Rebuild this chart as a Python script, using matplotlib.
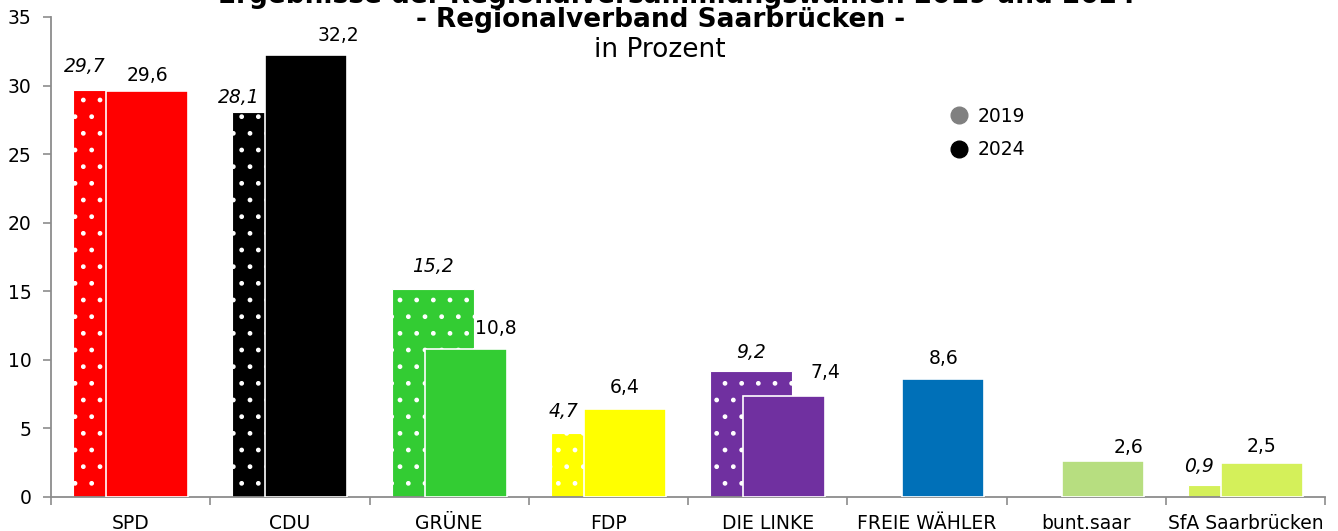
import numpy as np
import matplotlib
matplotlib.use("Agg")
import matplotlib.pyplot as plt
from matplotlib.lines import Line2D

# ---- data ----
parties = ["SPD", "CDU", "GRÜNE", "FDP", "DIE LINKE", "FREIE WÄHLER", "bunt.saar", "SfA Saarbrücken"]
votes_2019 = [29.7, 28.1, 15.2, 4.7, 9.2, np.nan, np.nan, 0.9]
votes_2024 = [29.6, 32.2, 10.8, 6.4, 7.4, 8.6, 2.6, 2.5]
party_colors = ["#FF0000", "#000000", "#33CC33", "#FFFF00", "#7030A0", "#0070B8", "#B7DE80", "#D4F05A"]
series_labels = ["2019", "2024"]
yticks = [0, 5, 10, 15, 20, 25, 30, 35]

# label nudges (pixels) relative to bar centre / bar top
lab19_dx = [-29, -35, 0, -28, 0, 0, 0, -30]
lab19_dy = [23, 14, 22, 21, 18, 0, 0, 18]
lab24_dx = [0, 32, 30, 0, 41, 0, 26, 0]
lab24_dy = [16, 20, 20, 22, 23, 21, 14, 16]

plt.rcParams["font.family"] = ["DejaVu Sans"]
plt.rcParams["hatch.linewidth"] = 1.0

W, H = 1338, 531
fig = plt.figure(figsize=(W / 100, H / 100), dpi=100)
ax = fig.add_axes([51 / W, 1 - 497 / H, (1325 - 51) / W, (497 - 17) / H])

x = np.arange(len(parties))
bw = 0.515
off = 0.103
ax.bar(x - off, votes_2019, width=bw, color=party_colors, edgecolor="white",
       linewidth=0.8, hatch=".", zorder=2)
ax.bar(x + off, votes_2024, width=bw, color=party_colors, edgecolor="white",
       linewidth=1.2, zorder=3)

def fmt(v):
    return f"{v:.1f}".replace(".", ",")

FS = 13.5
for i in range(len(parties)):
    v = votes_2019[i]
    if not np.isnan(v):
        ax.annotate(fmt(v), (x[i] - off, v), xytext=(lab19_dx[i], lab19_dy[i]),
                    textcoords="offset pixels", ha="center", va="center",
                    fontsize=FS, fontstyle="italic", color="black", zorder=5)
    v = votes_2024[i]
    ax.annotate(fmt(v), (x[i] + off, v), xytext=(lab24_dx[i], lab24_dy[i]),
                textcoords="offset pixels", ha="center", va="center",
                fontsize=FS, color="black", zorder=5)

ax.set_xlim(-0.5, len(parties) - 0.5)
ax.set_ylim(0, 35)
ax.set_yticks(yticks)
ax.set_xticks(x)
ax.set_xticklabels(parties, fontsize=FS)
ax.set_xticks(np.arange(-0.5, len(parties), 1), minor=True)
ax.tick_params(axis="x", which="major", length=0, pad=12)
ax.tick_params(axis="x", which="minor", length=6, width=1.2, color="#8C8C8C")
ax.tick_params(axis="y", which="major", length=6, width=1.2, color="#8C8C8C",
               labelsize=FS, pad=8)
for s in ["top", "right"]:
    ax.spines[s].set_visible(False)
for s in ["left", "bottom"]:
    ax.spines[s].set_color("#8C8C8C")
    ax.spines[s].set_linewidth(1.3)

handles = [Line2D([], [], marker="o", linestyle="", color="#808080", markersize=12),
           Line2D([], [], marker="o", linestyle="", color="#000000", markersize=12)]
ax.legend(handles, series_labels, loc="upper left", frameon=False, fontsize=FS,
          bbox_to_anchor=(950 / W, 1 - 107 / H), bbox_transform=fig.transFigure,
          handlelength=1.0, handletextpad=0.45, labelspacing=0.75, borderpad=0,
          borderaxespad=0)

fig.text(677 / W, 1 - 3 / H,
         "Ergebnisse der Regionalversammlungswahlen 2019 und 2024",
         ha="center", va="baseline", fontsize=19, fontweight="bold")
fig.text(661 / W, 1 - 20 / H, "- Regionalverband Saarbrücken -",
         ha="center", va="center", fontsize=19, fontweight="bold")
fig.text(660 / W, 1 - 50 / H, "in Prozent", ha="center", va="center", fontsize=19)

fig.savefig("out.png", dpi=100)
